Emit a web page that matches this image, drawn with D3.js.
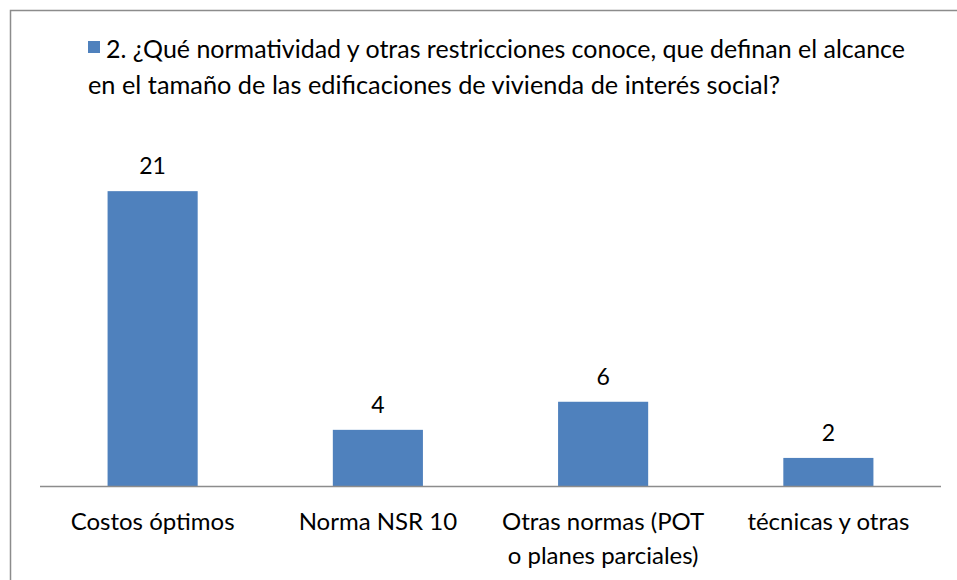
<!DOCTYPE html>
<html>
<head>
<meta charset="utf-8">
<script src="https://cdn.jsdelivr.net/npm/d3@7"></script>
<style>
  body { margin: 0; background: #fff; }
  text { font-family: Lato, "Open Sans", sans-serif; fill: #000; }
</style>
</head>
<body>
<div id="chart"></div>
<script>
const width = 957,
    height = 580

// data
var categories = ["Costos óptimos", "Norma NSR 10", "Otras normas (POT|o planes parciales)", "técnicas y otras"]
var values = [21, 4, 6, 2]
var seriesName = ["2. ¿Qué normatividad y otras restricciones conoce, que definan el alcance",
    "en el tamaño de las edificaciones de vivienda de interés social?"]

var svg = d3.select("#chart")
    .append("svg")
    .attr("width", width)
    .attr("height", height)

// chart frame (runs off the right and bottom edges)
svg.append("rect")
    .attr("x", 10.5)
    .attr("y", 10.5)
    .attr("width", 1000)
    .attr("height", 1000)
    .attr("fill", "#fff")
    .attr("stroke", "#8c8c8c")
    .attr("stroke-width", 1.5)

var x = d3.scaleBand()
    .domain(categories)
    .range([40, 941])
    .paddingInner(0.6)
    .paddingOuter(0.3)

var y = d3.scaleLinear()
    .domain([0, 25])
    .range([486, 135])

svg.append("g")
    .selectAll("rect")
    .data(values)
    .enter()
    .append("rect")
    .attr("x", (d, i) => x(categories[i]))
    .attr("y", d => y(d))
    .attr("width", x.bandwidth())
    .attr("height", d => y(0) - y(d))
    .attr("fill", "#4f81bd")

// value labels
svg.append("g")
    .selectAll("text")
    .data(values)
    .enter()
    .append("text")
    .attr("x", (d, i) => x(categories[i]) + x.bandwidth() / 2)
    .attr("y", d => y(d) - 17)
    .attr("text-anchor", "middle")
    .attr("font-size", 23)
    .text(d => d)

// x axis line
svg.append("line")
    .attr("x1", 40)
    .attr("x2", 941)
    .attr("y1", y(0) + 0.5)
    .attr("y2", y(0) + 0.5)
    .attr("stroke", "#8c8c8c")
    .attr("stroke-width", 1.5)

// category labels
var catLabels = svg.append("g")
    .selectAll("text")
    .data(categories)
    .enter()
    .append("text")
    .attr("x", d => x(d) + x.bandwidth() / 2)
    .attr("y", 530)
    .attr("text-anchor", "middle")
    .attr("font-size", 24)

catLabels.selectAll("tspan")
    .data(d => d.split("|"))
    .enter()
    .append("tspan")
    .attr("x", function () { return this.parentNode.getAttribute("x") })
    .attr("dy", (d, i) => i === 0 ? 0 : 34)
    .text(d => d)

// legend
svg.append("rect")
    .attr("x", 88)
    .attr("y", 41)
    .attr("width", 12)
    .attr("height", 12)
    .attr("fill", "#4f81bd")

svg.append("g")
    .selectAll("text")
    .data(seriesName)
    .enter()
    .append("text")
    .attr("x", (d, i) => i === 0 ? 106 : 88)
    .attr("y", (d, i) => 58 + i * 36)
    .attr("font-size", 25)
    .attr("textLength", (d, i) => i === 0 ? 799 : 692)
    .attr("lengthAdjust", "spacingAndGlyphs")
    .text(d => d)
</script>
</body>
</html>
